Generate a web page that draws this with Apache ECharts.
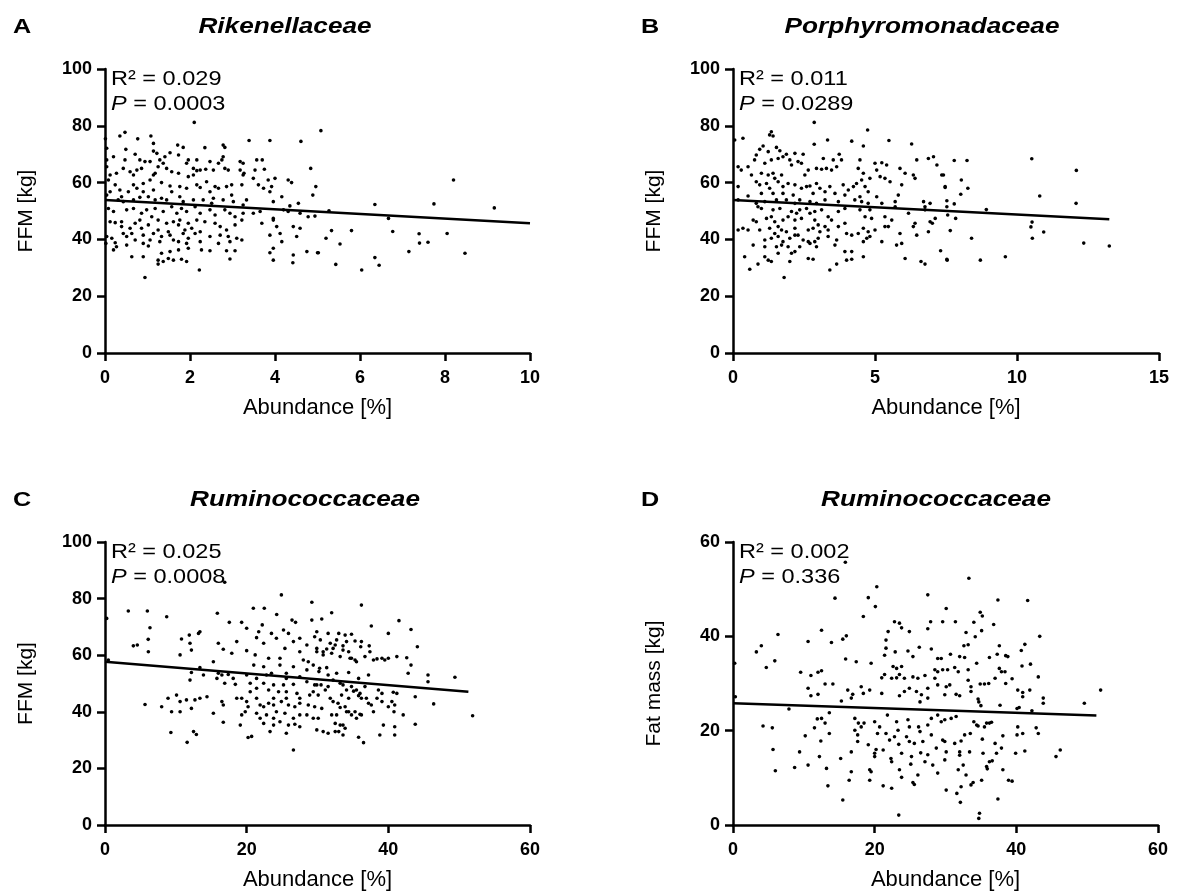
<!DOCTYPE html>
<html>
<head>
<meta charset="utf-8">
<script src="https://cdn.jsdelivr.net/npm/echarts@6.0.0/dist/echarts.min.js"></script>
<style>
html,body{margin:0;padding:0;background:#fff;}
#chart{width:1178px;height:893px;}
</style>
</head>
<body>
<div id="chart"></div>
<script>
// ---------------- DATA ----------------
const panelLetters = ['A', 'B', 'C', 'D'];
const panelTitles = ['Rikenellaceae', 'Porphyromonadaceae', 'Ruminococcaceae', 'Ruminococcaceae'];
const r2Values = ['0.029', '0.011', '0.025', '0.002'];
const pValues = ['0.0003', '0.0289', '0.0008', '0.336'];
const yAxisNames = ['FFM [kg]', 'FFM [kg]', 'FFM [kg]', 'Fat mass [kg]'];
const xAxisName = 'Abundance [%]';
// [min, max, interval]
const xRanges = [[0, 10, 2], [0, 15, 5], [0, 60, 20], [0, 60, 20]];
const yRanges = [[0, 100, 20], [0, 100, 20], [0, 100, 20], [0, 60, 20]];

// regression line end points [x, y]
const fitA = [[0, 53.9], [10, 45.7]];
const fitB = [[0, 53.9], [13.25, 47.1]];
const fitC = [[0, 57.7], [51.3, 47.1]];
const fitD = [[0, 25.8], [51.3, 23.2]];

const ptsA = [
[2.10,81.2],[0.47,77.7],[1.08,76.4],[0.77,75.4],[0.01,75.4],[0.35,76.4],[3.39,74.8],[3.88,74.8],[4.61,74.5],[1.71,73.2],[1.84,72.4],[2.78,73.2],[1.14,73.8],[0.04,72.1],[0.49,71.7],[2.35,72.3],[2.82,72.4],
[0.20,69.1],[0.71,70.0],[1.14,71.1],[1.22,70.3],[1.41,69.1],[1.53,70.5],[1.73,69.7],[1.96,68.0],[2.16,68.0],[2.78,69.1],[2.75,68.0],[0.04,68.0],[0.47,68.0],[0.82,68.0],[0.94,67.4],[1.06,67.4],[1.29,68.0],[1.37,66.8],[1.92,66.8],[3.57,68.0],[3.70,68.0],[3.18,67.4],[3.25,66.8],[4.84,65.0],[2.67,66.8],[2.47,67.4],
[0.04,65.6],[0.43,65.0],[0.59,63.8],[0.75,64.4],[0.86,65.0],[1.25,65.6],[1.45,65.0],[1.57,63.8],[2.08,65.0],[2.16,64.2],[2.24,64.4],[2.37,64.7],[2.55,64.4],[2.82,65.0],[2.90,64.4],[3.18,64.4],[3.27,63.3],[3.53,64.4],[3.75,64.7],[0.12,62.7],[0.27,63.3],[0.67,62.7],[1.14,62.7],[1.18,63.3],[1.73,63.3],[1.96,62.1],[2.08,62.7],[3.25,62.7],[3.49,61.5],[3.84,60.9],[4.00,61.5],[4.31,60.9],[4.39,60.0],
[0.08,60.9],[0.24,59.2],[0.67,59.2],[0.90,59.7],[1.06,60.9],[1.33,60.0],[1.53,58.8],[1.76,58.6],[2.16,59.2],[2.24,58.3],[2.39,60.3],[2.59,58.6],[2.67,58.0],[2.86,58.6],[2.98,59.2],[3.22,59.2],[3.61,59.2],[3.73,58.0],[3.92,58.6],[0.12,56.8],[0.35,57.4],[0.55,56.8],[0.75,58.0],[0.90,56.8],[1.14,57.4],[1.57,56.8],[1.92,58.0],[2.47,56.8],[3.88,56.8],[4.16,55.0],[4.96,58.6],[4.89,55.6],[2.98,55.6],[0.39,55.0],
[0.04,55.6],[0.31,53.9],[0.43,53.3],[0.67,53.9],[0.82,54.8],[1.02,55.0],[1.18,53.9],[1.33,54.5],[1.45,53.9],[1.76,55.0],[1.84,53.3],[2.08,53.9],[2.31,53.9],[2.51,52.7],[2.55,54.5],[2.78,53.9],[3.02,53.3],[3.25,52.1],[3.33,53.9],[3.96,53.3],[4.35,51.8],[4.55,52.7],
[0.08,50.9],[0.20,49.8],[0.51,50.4],[0.67,50.9],[0.86,49.2],[0.98,50.4],[1.18,50.9],[1.37,49.8],[1.57,51.5],[1.69,49.2],[1.80,50.9],[1.92,49.8],[2.12,51.5],[2.24,49.2],[2.47,50.4],[2.59,48.6],[2.82,50.4],[2.94,49.2],[3.06,48.0],[3.25,49.2],[3.49,49.2],[3.65,49.8],[3.96,47.4],[4.20,50.4],[4.31,49.8],[4.59,49.2],[4.78,48.0],[4.94,48.2],
[0.12,46.2],[0.24,45.9],[0.39,46.2],[0.71,45.7],[0.82,46.8],[1.02,45.1],[1.10,48.0],[1.25,46.8],[1.45,45.7],[1.61,46.2],[1.73,45.1],[1.76,46.8],[1.96,45.7],[2.16,46.8],[2.35,46.2],[2.59,45.7],[2.71,44.5],[2.86,43.3],[3.06,45.1],[3.22,46.8],[3.69,45.7],[3.96,46.8],[4.04,44.5],[4.43,44.5],[4.59,43.9],[0.39,44.5],[0.59,43.9],[0.86,43.9],[1.25,43.3],[1.49,42.7],[1.88,43.3],[2.04,43.9],[2.24,42.7],
[0.04,41.0],[0.16,40.4],[0.43,42.1],[0.51,41.0],[0.63,42.1],[0.71,39.8],[0.90,41.5],[1.06,39.8],[1.14,42.1],[1.33,41.0],[1.53,41.5],[1.61,39.8],[1.84,42.1],[1.96,40.4],[2.12,42.1],[2.24,39.2],[2.47,41.0],[2.71,41.5],[2.90,41.0],[3.10,40.4],[3.22,39.8],[3.88,41.5],[4.12,42.1],[4.16,39.2],[4.51,41.0],[0.02,38.6],[0.24,38.8],[0.51,38.0],[0.90,38.6],[1.02,37.7],[1.29,39.2],[1.73,39.2],[1.92,38.6],[2.67,38.6],[2.94,39.2],
[0.20,36.3],[0.27,37.4],[0.63,33.9],[0.90,33.9],[1.33,35.1],[1.53,35.7],[1.73,36.3],[1.96,36.9],[2.27,36.3],[2.47,36.0],[2.86,36.0],[3.06,36.0],[3.96,36.9],[3.88,35.3],[4.75,35.7],[5.02,35.3],[4.43,34.5],[3.96,32.7],
[1.25,32.7],[1.37,32.2],[1.49,33.3],[1.61,32.7],[1.80,33.0],[1.92,32.2],[1.25,31.3],[2.94,33.1],[4.42,31.8],[2.22,29.2],[0.94,26.6],
[5.08,78.3],[8.20,60.9],[6.35,52.3],[7.74,52.5],[9.16,51.1],[5.27,50.1],[6.67,47.4],[5.33,43.1],[5.80,43.1],[6.77,42.8],[7.39,42.0],[8.05,42.1],[5.20,40.4],[5.53,38.4],[7.40,38.7],[7.60,39.0],[5.00,35.3],[7.15,35.7],[8.47,35.1],[6.35,33.6],[5.43,31.2],[6.45,30.9],[6.04,29.2]
];

const ptsB = [
[2.86,81.2],[4.74,78.5],[1.35,77.9],[1.29,76.8],[1.41,76.4],[0.35,75.6],[0.06,75.0],[3.33,75.0],[4.18,74.6],[5.49,74.8],[6.29,73.6],[4.59,72.9],[2.86,73.5],[1.06,72.9],[0.94,71.7],[1.53,72.4],[1.65,71.2],[1.24,70.9],[1.88,70.0],[2.18,70.3],[2.47,70.0],[0.82,69.7],[1.76,69.1],[3.18,68.5],[3.53,68.0],[3.74,70.0],[3.82,68.0],[4.47,68.0],[5.00,66.8],[5.24,67.0],[5.41,66.2],[5.88,65.0],[6.47,68.0],[6.88,68.5],[7.06,69.1],[7.18,66.2],[0.18,65.6],[0.53,65.6],[0.29,64.4],[0.76,68.0],[1.12,66.8],[1.35,68.0],[1.59,68.5],[2.00,68.0],[2.29,67.4],[2.06,66.2],[2.41,66.8],[2.65,64.4],[2.94,65.0],[3.12,64.7],[3.29,65.0],[3.47,64.4],[3.65,65.6],[4.41,65.0],[4.59,63.3],[5.06,64.4],[6.06,63.3],[6.35,62.7],[6.41,61.5],[7.35,62.7],[0.65,62.7],[1.00,63.3],[1.24,62.7],[1.41,63.3],[1.71,62.7],[1.47,61.5],[2.53,62.7],
[0.18,58.6],[0.82,60.3],[0.94,59.2],[1.18,59.7],[1.29,58.0],[1.59,60.3],[1.76,58.6],[1.94,59.7],[2.18,59.2],[2.41,58.0],[2.59,58.6],[2.71,58.8],[2.94,59.7],[3.06,58.0],[3.24,56.8],[3.41,58.6],[3.88,59.2],[4.06,57.4],[4.24,58.6],[4.35,59.7],[4.53,60.9],[4.65,58.6],[4.82,61.5],[5.18,62.1],[5.35,61.5],[5.53,60.3],[5.94,59.2],[7.47,58.6],[0.53,55.3],[1.00,56.2],[1.41,56.2],[1.76,56.2],[2.12,55.6],[2.82,56.2],[3.59,56.2],[3.94,55.6],[4.47,55.0],[4.76,56.8],[5.06,55.0],[5.82,55.6],[6.71,53.3],
[0.18,53.9],[0.82,52.7],[1.12,53.3],[1.53,53.9],[1.88,53.9],[2.18,52.7],[2.35,53.9],[2.71,53.3],[2.94,52.7],[3.24,53.9],[3.71,53.3],[4.29,53.9],[4.53,53.3],[4.76,52.7],[5.24,52.7],[5.71,53.3],[6.76,51.5],[6.94,52.7],
[0.88,51.5],[1.00,50.9],[1.41,50.4],[1.65,50.9],[2.06,49.8],[2.24,49.2],[2.35,50.4],[2.59,50.9],[2.88,49.8],[3.12,50.4],[2.71,49.2],[3.71,49.8],[3.94,50.9],[4.47,50.4],[4.82,50.4],[5.71,51.5],[6.18,49.2],[6.76,50.4],
[0.71,46.8],[0.82,46.2],[1.18,47.4],[1.35,48.0],[1.47,46.2],[1.76,46.8],[1.94,48.0],[2.18,46.8],[2.41,47.4],[2.88,46.8],[3.00,45.1],[3.35,48.0],[3.47,46.8],[3.94,45.7],[4.65,48.0],[4.88,47.4],[5.35,48.0],[5.47,44.5],[5.59,46.8],[6.41,45.7],[6.94,46.2],[7.12,47.4],
[0.35,43.9],[0.53,43.3],[0.18,43.3],[0.94,43.3],[1.29,43.9],[1.47,42.1],[1.59,44.5],[1.71,43.3],[1.88,42.7],[2.18,43.9],[2.29,41.5],[2.65,43.3],[2.82,43.9],[3.06,42.7],[3.24,44.5],[3.35,43.3],[3.71,44.5],[4.00,42.1],[4.18,41.5],[4.41,42.1],[4.59,43.9],[4.76,42.7],[5.00,43.3],[5.35,44.5],[5.88,42.1],[6.35,44.5],[6.47,41.5],[6.88,42.7],[7.02,45.7],
[1.12,39.8],[1.35,40.4],[1.59,41.0],[1.76,39.2],[2.00,40.4],[2.18,41.5],[2.47,39.8],[2.65,39.2],[2.88,39.2],[3.00,40.4],[3.35,41.0],[3.65,39.8],[4.59,39.2],[4.82,41.0],[5.24,39.2],[4.71,40.4],
[0.71,38.0],[1.12,37.4],[1.53,37.4],[1.71,38.0],[1.94,37.4],[2.35,37.4],[2.71,38.6],[2.94,37.4],[3.59,38.0],[3.94,35.7],[4.18,35.7],[5.76,38.0],[5.94,38.6],[7.31,36.0],
[0.41,33.9],[1.12,33.9],[1.24,32.7],[1.35,32.2],[1.59,35.1],[2.06,35.1],[2.18,35.7],[2.65,33.3],[2.82,33.0],[4.00,32.7],[4.18,33.0],[4.59,33.9],[6.06,33.3],[6.62,32.2],[6.76,31.3],[7.53,33.0],[2.00,32.2],[0.59,29.5],[0.88,31.3],[3.41,29.2],[3.65,31.3],[1.80,26.6],
[7.79,67.8],[8.24,67.8],[10.52,68.4],[12.09,64.3],[7.41,62.7],[8.04,60.9],[7.47,58.3],[8.27,58.0],[8.02,55.9],[10.80,55.3],[7.53,53.6],[7.79,52.5],[7.53,51.5],[12.08,52.7],[8.92,50.5],[7.56,48.6],[7.84,47.4],[10.53,46.1],[10.49,44.4],[7.65,43.1],[10.94,42.6],[8.40,40.4],[10.54,40.4],[12.35,38.7],[13.25,37.7],[7.54,32.7],[8.71,32.7],[9.59,33.9]
];

const ptsC = [
[24.9,81.3],[29.2,78.7],[3.29,75.6],[5.98,75.6],[8.71,73.6],[0.24,73.0],[15.86,74.8],[20.94,76.6],[22.49,76.6],[24.24,74.4],[6.35,69.7],[17.55,71.6],[19.29,71.6],[20.0,69.5],[22.2,70.7],[21.7,68.3],[13.4,68.3],[13.2,67.7],[11.9,67.1],[26.4,72.4],[26.9,71.6],[29.2,72.4],[25.2,68.9],[25.9,67.7],[23.5,67.7],[24.2,66.0],[27.5,66.0],[28.5,63.6],[6.1,65.6],[10.8,65.7],[12.0,64.2],[16.0,64.2],[18.6,64.8],[21.4,66.2],[22.4,64.2],[4.0,63.3],[4.56,63.6],[6.12,61.2],[10.6,60.1],[12.2,61.8],[16.7,62.1],[17.9,60.7],[20.0,61.6],[25.4,62.4],[26.6,64.8],[27.5,61.2],[29.9,61.2],[21.2,60.1],[23.1,58.9],[24.7,58.9],[24.7,56.5],[28.0,58.3],[28.7,57.7],[29.4,56.5],[15.3,57.7],[13.4,55.6],[12.2,53.9],[13.9,53.0],[16.0,53.6],[16.5,53.0],[17.4,53.2],[18.1,51.8],[20.0,53.0],[21.4,51.8],[22.8,53.0],[23.5,53.6],[25.6,53.6],[27.5,52.4],[28.5,50.6],[29.6,49.5],[12.0,51.2],[15.8,51.8],[16.9,50.1],[18.4,49.7],[20.5,50.1],[21.4,48.3],[22.4,50.1],[23.8,49.5],[25.2,49.5],[26.6,49.7],[23.1,47.7],[24.5,47.1],[25.6,47.1],[27.1,46.5],[28.9,45.9],[14.4,45.3],[13.4,44.8],[10.1,45.9],[8.9,44.8],[8.0,41.8],[10.6,43.6],[11.5,44.2],[12.2,41.2],[12.7,44.2],[5.65,42.6],[16.5,43.6],[16.7,42.4],[18.6,44.8],[19.3,44.8],[20.0,43.6],[20.2,41.8],[21.9,42.4],[22.4,41.8],[23.1,43.0],[23.8,42.4],[24.9,43.6],[25.9,42.4],[26.8,41.8],[27.5,43.0],[28.7,42.4],[29.6,41.8],[9.4,40.0],[10.6,40.0],[15.3,39.5],[19.3,38.9],[19.8,40.0],[21.4,39.5],[22.8,38.9],[23.8,37.7],[25.4,39.5],[26.6,37.7],[28.5,38.9],[29.4,37.7],[16.7,36.3],[19.1,35.3],[22.4,35.9],[23.8,35.3],[25.9,35.3],[26.8,35.6],[27.5,34.7],[12.5,33.0],[12.9,32.0],[9.3,32.7],[20.2,30.9],[20.7,31.3],[23.3,33.0],[25.6,32.4],[11.6,29.2],[26.6,26.5],[0.47,58.3],[16.9,85.8],
[20.5,47.1],[21.4,44.8],[23.8,44.8],[25.6,44.8],[27.5,44.8],[24.2,40.0],[27.5,38.9],[21.9,37.7],[24.7,36.5],[21.0,56.5],[22.4,55.9],[26.6,55.9],[28.5,54.8],[25.6,51.8],[29.4,47.1],
[36.2,77.7],[32.0,75.0],[30.6,72.8],[41.5,72.2],[37.6,70.3],[43.2,69.1],[40.0,67.7],[29.9,68.3],[31.5,67.7],[33.0,67.7],[33.9,67.1],[34.8,67.4],[30.4,65.4],[32.7,65.4],[35.3,65.0],[29.9,62.4],[31.3,62.2],[32.2,62.4],[33.6,63.3],[36.1,63.0],[37.3,63.3],[44.1,63.0],[30.8,60.1],[32.0,60.7],[33.2,59.5],[34.4,61.2],[34.8,58.9],[35.3,58.3],[36.7,59.5],[37.4,61.2],[38.4,58.7],[39.5,58.3],[40.0,58.9],[41.2,59.5],[42.6,59.1],[43.2,56.5],[30.3,55.4],[31.3,55.6],[32.7,53.6],[34.4,53.9],[35.8,51.8],[37.2,53.0],[42.8,53.6],[45.6,53.0],[49.4,52.2],[45.6,50.6],[29.9,49.5],[31.5,48.9],[33.2,50.1],[34.8,48.9],[35.1,47.3],[36.0,46.5],[36.7,48.9],[38.6,47.7],[39.1,46.5],[40.7,46.9],[41.2,46.5],[30.1,45.9],[31.8,44.8],[33.4,45.9],[34.4,44.8],[35.8,45.7],[37.2,43.0],[38.4,44.8],[40.5,43.6],[40.9,42.4],[43.8,45.3],[46.4,42.8],[30.6,41.2],[32.0,38.9],[33.2,41.5],[34.1,40.0],[34.8,38.9],[36.0,39.1],[37.9,40.0],[40.8,40.0],[42.1,38.9],[51.9,38.6],[30.1,37.7],[32.5,35.9],[33.6,35.3],[29.9,33.6],[30.8,33.0],[33.0,33.0],[33.6,31.8],[35.8,31.0],[36.5,29.1],[38.8,31.8],[39.3,35.3],[40.9,34.7],[40.9,31.8],[43.8,35.6],
[29.6,66.5],[31.8,64.2],[32.5,63.6],[34.1,64.8],[36.2,64.8],[30.8,61.2],[33.6,61.8],[34.6,58.9],[35.5,57.7],[37.9,58.3],[39.1,58.9],[30.2,54.2],[31.5,53.0],[32.2,51.2],[33.6,49.5],[34.1,47.7],[35.5,47.7],[36.2,44.8],[36.9,44.8],[37.6,42.4],[39.1,43.6],[40.0,41.8],[30.5,49.5],[31.1,47.7],[32.2,43.6],[32.9,43.0],[33.9,41.8],[34.4,40.0],[35.3,40.0],[35.5,37.7],[36.2,38.9],[32.7,38.9],[33.2,35.3],[31.5,32.4],[32.5,33.0],[33.9,34.2]
];

const ptsD = [
[15.86,55.7],[20.3,50.5],[27.5,48.8],[14.4,48.1],[19.1,48.2],[20.1,46.3],[30.1,45.9],[18.4,44.2],[22.8,43.1],[23.5,42.8],[23.8,41.8],[27.9,43.1],[29.6,43.1],[27.5,41.6],[6.35,40.4],[12.5,41.3],[10.6,38.9],[15.5,39.4],[16.0,40.1],[13.9,38.7],[21.9,41.0],[21.6,39.2],[24.9,41.0],[26.3,37.7],[28.0,37.3],[4.0,38.0],[3.3,36.7],[5.9,34.8],[4.7,33.4],[0.24,34.3],[21.6,37.5],[21.4,36.0],[22.9,36.7],[24.7,36.9],[25.4,35.7],[28.9,35.3],[29.4,35.3],[15.9,35.2],[17.4,34.6],[19.5,34.3],[22.6,33.6],[23.1,33.2],[23.8,33.6],[28.5,32.9],[29.6,32.9],[9.55,32.4],[11.0,31.7],[12.0,32.4],[12.5,32.7],[21.0,31.2],[21.4,31.9],[22.4,31.1],[23.1,31.2],[23.5,31.9],[24.2,31.1],[25.4,31.4],[26.1,31.1],[27.1,31.7],[28.5,31.1],[28.9,32.5],[13.0,29.9],[14.1,29.9],[18.1,29.3],[16.2,28.6],[16.9,27.7],[11.0,27.4],[12.0,27.7],[10.6,29.0],[18.4,27.9],[19.3,28.6],[21.0,27.9],[23.5,27.4],[24.9,29.0],[25.9,28.3],[26.6,27.6],[27.5,29.0],[28.9,29.7],[0.33,27.2],[15.3,26.3],[16.7,26.9],[24.2,28.3],[26.4,26.1],[27.5,26.9],[29.9,27.6],
[33.3,52.3],[37.4,47.7],[41.6,47.6],[34.9,45.1],[35.2,44.3],[31.4,43.1],[34.0,43.0],[35.1,41.2],[36.8,42.5],[32.9,40.8],[34.2,39.9],[43.3,40.0],[32.6,38.0],[33.2,38.2],[37.6,38.0],[41.2,38.3],[40.7,37.0],[30.7,36.2],[32.0,35.7],[32.7,35.5],[34.4,34.3],[36.2,35.5],[37.3,36.2],[38.5,35.9],[38.8,35.7],[40.8,33.7],[42.0,34.1],[30.3,32.9],[31.3,33.4],[31.8,32.5],[33.2,32.9],[33.2,30.7],[37.6,33.2],[37.9,32.5],[38.4,32.5],[43.1,31.4],[30.1,29.3],[30.6,29.7],[31.5,27.7],[32.0,27.4],[33.6,29.3],[33.6,28.3],[34.9,29.9],[35.5,29.9],[36.1,30.0],[37.0,31.1],[38.5,30.0],[39.4,31.0],[40.2,28.6],[40.9,28.1],[41.9,28.6],[43.8,26.9],[43.8,25.8],[49.6,25.8],[51.9,28.6],[34.6,26.7],[34.7,26.1],[35.0,25.3],[37.7,25.4],[40.4,24.9],[42.2,24.2],
[4.24,21.0],[5.55,20.6],[5.65,16.0],[5.98,11.5],[7.9,24.6],[8.7,12.2],[9.4,15.5],[10.2,18.9],[10.6,12.7],[11.5,20.6],[11.9,22.5],[12.5,22.6],[13.0,21.6],[12.4,17.8],[12.2,14.5],[13.2,12.0],[13.4,8.3],[13.6,19.4],[13.6,23.8],[15.2,14.1],[15.5,5.3],[16.4,9.5],[16.7,11.3],[16.7,15.5],[17.2,22.6],[17.2,20.1],[17.7,21.6],[18.1,20.8],[18.5,21.6],[17.6,17.7],[17.6,19.1],[19.1,17.0],[19.3,11.7],[19.5,11.3],[19.3,9.5],[20.0,21.9],[20.4,19.4],[20.7,20.8],[20.0,15.2],[20.2,16.0],[20.0,14.5],[21.2,15.9],[21.2,8.3],[21.6,19.4],[21.8,23.3],[22.1,18.0],[22.4,7.8],[22.3,14.1],[22.4,13.4],[22.8,18.7],[23.1,21.9],[23.3,20.1],[23.4,17.1],[23.8,15.2],[23.5,11.7],[23.8,10.1],[23.4,2.1],[24.5,18.7],[24.7,22.3],[24.9,20.8],[25.2,14.5],[25.1,12.9],[25.4,9.0],[25.6,8.6],[26.1,10.6],[24.9,17.7],[26.2,20.8],[26.4,19.8],[26.5,15.3],[26.8,17.7],[27.1,13.4],[27.5,21.2],[27.5,14.9],[28.0,19.1],[28.2,12.7],[28.7,16.3],[28.9,11.0],[29.4,21.9],[29.6,18.0],[29.9,13.8],[30.1,7.4],[25.6,17.3],[28.0,22.6],[28.9,23.3],
[29.9,22.3],[30.8,22.6],[31.5,23.0],[29.9,17.7],[30.1,15.5],[31.3,17.3],[31.8,11.7],[31.6,6.7],[32.1,4.8],[32.2,8.1],[32.2,17.8],[32.0,15.5],[32.0,14.8],[32.5,12.7],[32.7,19.1],[32.9,10.6],[33.5,19.4],[33.4,15.5],[33.6,8.5],[33.9,9.0],[34.0,21.9],[34.4,21.2],[34.6,21.0],[35.1,9.5],[34.7,1.4],[34.8,2.5],[35.2,18.2],[35.3,15.2],[35.5,20.8],[35.8,21.6],[36.2,21.6],[36.5,21.8],[35.8,12.4],[36.2,13.4],[36.6,13.6],[35.9,11.9],[37.0,17.3],[37.2,15.2],[37.4,5.5],[37.9,16.3],[38.1,11.7],[38.1,18.9],[38.9,9.5],[39.4,9.3],[39.9,15.2],[40.1,19.1],[40.2,20.8],[40.9,19.4],[41.2,15.7],[42.8,20.6],[43.1,19.4],[45.6,14.5],[46.2,15.9],[40.1,24.7],[40.9,27.2]
];

// ---------------- LAYOUT / STYLE ----------------
const FONT = 'Arial, "Liberation Sans", Helvetica, sans-serif';
const grids = [
  {left: 105, top: 69, width: 425, height: 284},
  {left: 733, top: 69, width: 426, height: 284},
  {left: 105, top: 542, width: 425, height: 283},
  {left: 733, top: 542, width: 425, height: 283}
];
const titleCenters = [285, 922, 305, 936];
const letterLefts = [13, 641, 13, 641];
const allPts = [ptsA, ptsB, ptsC, ptsD];
const allFits = [fitA, fitB, fitC, fitD];

const axisLine = {show: true, onZero: false, lineStyle: {color: '#000', width: 2.5}};
const axisTick = {show: true, inside: false, length: 8, lineStyle: {color: '#000', width: 2.5}};

const option = {
  animation: false,
  backgroundColor: '#fff',
  grid: grids.map(g => Object.assign({containLabel: false, outerBoundsMode: 'none'}, g)),
  xAxis: xRanges.map((r, i) => ({
    gridIndex: i, type: 'value', min: r[0], max: r[1], interval: r[2],
    name: xAxisName, nameLocation: 'middle', nameGap: 44,
    nameTextStyle: {color: '#000', fontSize: 22, fontFamily: FONT},
    axisLine, axisTick,
    axisLabel: {color: '#000', fontWeight: 'bold', fontSize: 18, fontFamily: FONT, margin: 16, showMinLabel: true, showMaxLabel: true},
    splitLine: {show: false}
  })),
  yAxis: yRanges.map((r, i) => ({
    gridIndex: i, type: 'value', min: r[0], max: r[1], interval: r[2],
    name: yAxisNames[i], nameLocation: 'middle', nameGap: 68,
    nameTextStyle: {color: '#000', fontSize: 21, fontFamily: FONT},
    axisLine, axisTick,
    axisLabel: {color: '#000', fontWeight: 'bold', fontSize: 18, fontFamily: FONT, margin: 13, showMinLabel: true, showMaxLabel: true},
    splitLine: {show: false}
  })),
  series: [],
  graphic: []
};

allPts.forEach((pts, i) => {
  option.series.push({
    type: 'scatter', xAxisIndex: i, yAxisIndex: i, data: pts,
    symbol: 'circle', symbolSize: 3.6, itemStyle: {color: '#000', opacity: 1},
    silent: true, clip: false, z: 2
  });
  option.series.push({
    type: 'line', xAxisIndex: i, yAxisIndex: i, data: allFits[i],
    symbol: 'none', lineStyle: {color: '#000', width: 2.6}, silent: true, z: 3
  });
  const g = grids[i];
  const ty = g.top - 42;
  option.graphic.push({
    type: 'text', x: letterLefts[i], y: ty, scaleX: 1.2,
    style: {text: panelLetters[i], fill: '#000', fontFamily: FONT, fontWeight: 'bold', fontSize: 21,
            align: 'left', verticalAlign: 'middle', textAlign: 'left', textVerticalAlign: 'middle'}
  });
  option.graphic.push({
    type: 'text', x: titleCenters[i], y: ty, scaleX: 1.19,
    style: {text: panelTitles[i], fill: '#000', fontFamily: FONT, fontWeight: 'bold', fontStyle: 'italic', fontSize: 22,
            align: 'center', verticalAlign: 'middle', textAlign: 'center', textVerticalAlign: 'middle'}
  });
  option.graphic.push({
    type: 'text', x: g.left + 6, y: g.top + 10, scaleX: 1.12,
    style: {text: 'R\u00B2 = ' + r2Values[i], fill: '#000', fontFamily: FONT, fontSize: 21,
            align: 'left', verticalAlign: 'middle', textAlign: 'left', textVerticalAlign: 'middle'}
  });
  option.graphic.push({
    type: 'text', x: g.left + 6, y: g.top + 35, scaleX: 1.12,
    style: {text: '{i|P} = ' + pValues[i], fill: '#000', fontFamily: FONT, fontSize: 21,
            align: 'left', verticalAlign: 'middle', textAlign: 'left', textVerticalAlign: 'middle',
            rich: {i: {fontStyle: 'italic', fontFamily: FONT, fontSize: 21, fill: '#000'}}}
  });
});

const chart = echarts.init(document.getElementById('chart'), null, {renderer: 'canvas'});
chart.setOption(option);
</script>
</body>
</html>
